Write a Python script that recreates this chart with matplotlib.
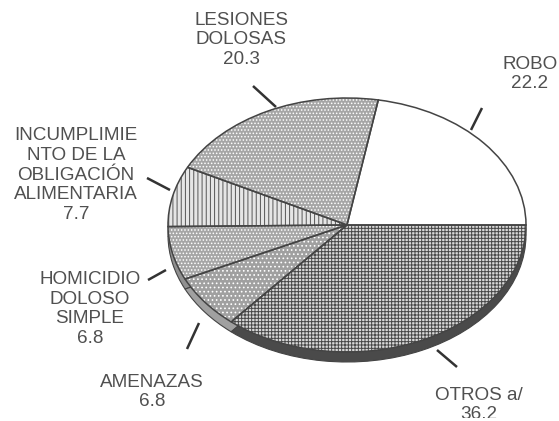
import matplotlib
matplotlib.use("Agg")
import matplotlib.pyplot as plt
from matplotlib.patches import Rectangle

plt.rcParams['font.family'] = ['Liberation Sans', 'DejaVu Sans']
plt.rcParams['hatch.linewidth'] = 0.7

# values in drawing order, counter clockwise from 3 o'clock
categories = ["ROBO", "LESIONES\nDOLOSAS", "INCUMPLIMIE\nNTO DE LA\nOBLIGACIÓN\nALIMENTARIA",
              "HOMICIDIO\nDOLOSO\nSIMPLE", "AMENAZAS", "OTROS a/"]
values = [22.2, 20.3, 7.7, 6.8, 6.8, 36.2]
value_labels = ["22.2", "20.3", "7.7", "6.8", "6.8", "36.2"]

W, H = 559, 421
CX, CY, RX, RY = 347, 225, 179, 127
DEPTH = 10

fig = plt.figure(figsize=(W / 100, H / 100), dpi=100)
ax = fig.add_axes([0, 0, 1, 1])

face = ['white', '#a6a6a6', '#e6e6e6', '#a6a6a6', '#a0a0a0', '#d8d8d8']
hatch = [None, '.....', '||||', '.....', '....', '+++++']
hatch_col = ['#444444', 'white', '#555555', 'white', 'white', '#484848']
side = ['white', '#a0a0a0', '#909090', '#909090', '#a0a0a0', '#4a4a4a']

# side wall of the disc: same pie shifted down
low, _ = ax.pie(values, startangle=0, radius=1, center=(0, -DEPTH / RY),
                colors=side, wedgeprops=dict(edgecolor='#444444', linewidth=0.8))
top, _ = ax.pie(values, startangle=0, radius=1, center=(0, 0),
                colors=face, wedgeprops=dict(linewidth=0))
for w in low:
    w.set_zorder(1)
for w, h, c in zip(top, hatch, hatch_col):
    w.set_zorder(2)
    if h:
        w.set_hatch(h)
        w.set_edgecolor(c)
# outlines on top of the hatching
top2, _ = ax.pie(values, startangle=0, radius=1, center=(0, 0),
                 colors=['none'] * 6, wedgeprops=dict(edgecolor='#444444', linewidth=1.1))
for w in top2:
    w.set_zorder(3)

ax.set_aspect('auto')
ax.set_xlim((0 - CX) / RX, (W - CX) / RX)
ax.set_ylim((CY - H) / RY, (CY - 0) / RY)
ax.axis('off')

# pixel overlay for labels and leaders
ov = fig.add_axes([0, 0, 1, 1], facecolor='none')
ov.set_xlim(0, W)
ov.set_ylim(H, 0)
ov.axis('off')

leaders = [((471, 130), (482, 108)), ((276, 107), (253, 86)), ((170, 190), (147, 178)),
           ((166, 270), (148, 280)), ((199, 323), (187, 349)), ((437, 350), (457, 367))]
for a, b in leaders:
    ov.plot([a[0], b[0]], [a[1], b[1]], color='#333333', lw=1.8, solid_capstyle='butt')

label_pos = [(530, 74), (241, 40), (76, 175), (90, 309), (152, 392), (479, 405)]
fs = 13.6
for cat, val, (x, y) in zip(categories, value_labels, label_pos):
    t = ov.text(x, y, cat + "\n" + val, ha='center', va='center', fontsize=fs,
                color='#505050', linespacing=1.22)
    if cat.startswith("OTROS"):
        # last line is cut off in the source image
        t.set_clip_path(Rectangle((0, 0), W, 418, transform=ov.transData))
        t.set_clip_on(True)

fig.savefig("out.png", dpi=100)
plt.close()
